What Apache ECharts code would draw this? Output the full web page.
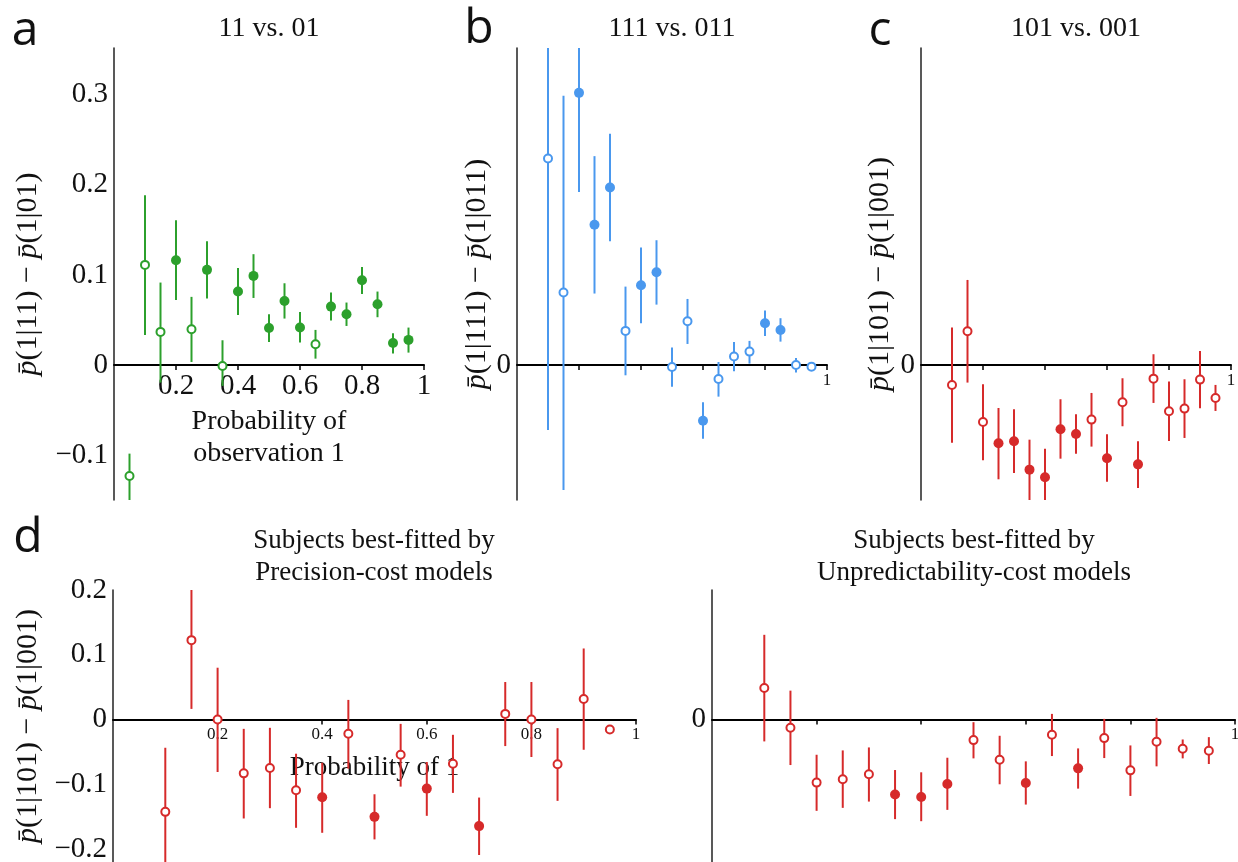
<!DOCTYPE html>
<html><head><meta charset="utf-8">
<script src="https://cdn.jsdelivr.net/npm/echarts@6/dist/echarts.min.js"></script>
<style>html,body{margin:0;padding:0;background:#fff}#c{width:1238px;height:862px}</style>
</head><body><div id="c"></div><script>
// ---------- data ----------
const aX      = [0.05,0.1,0.15,0.2,0.25,0.3,0.35,0.4,0.45,0.5,0.55,0.6,0.65,0.7,0.75,0.8,0.85,0.9,0.95];
const aMean   = [-0.1233,0.1111,0.0367,0.1163,0.0396,0.1056,-0.0011,0.0815,0.0989,0.0411,0.0711,0.0415,0.023,0.0648,0.0563,0.0941,0.0674,0.0244,0.0278];
const aLow    = [-0.17,0.0333,-0.0196,0.0722,0.0033,0.0737,-0.0233,0.0556,0.0744,0.0256,0.0515,0.0248,0.007,0.0493,0.0433,0.0789,0.053,0.0126,0.0137];
const aHigh   = [-0.0985,0.1885,0.0915,0.1607,0.0756,0.1374,0.0274,0.1078,0.123,0.0563,0.0907,0.0589,0.0389,0.0804,0.0693,0.1089,0.0815,0.0352,0.0415];
const aFilled = [0,0,0,1,0,1,0,1,1,1,1,1,0,1,1,1,1,1,1];

const bX      = [0.1,0.15,0.2,0.25,0.3,0.35,0.4,0.45,0.5,0.55,0.6,0.65,0.7,0.75,0.8,0.85,0.9,0.95];
const bMean   = [0.2293,0.0804,0.3022,0.1556,0.197,0.0378,0.0885,0.103,-0.0022,0.0485,-0.0619,-0.0156,0.0093,0.0148,0.0463,0.0389,0,-0.0019];
const bLow    = [-0.0722,-0.1389,0.1922,0.0793,0.1374,-0.0115,0.0463,0.067,-0.0241,0.0233,-0.0819,-0.0352,-0.007,0.0015,0.0322,0.0259,-0.0085,-0.0056];
const bHigh   = [0.40,0.2989,0.40,0.2319,0.2567,0.087,0.1304,0.1385,0.0193,0.0733,-0.0415,0.0033,0.0256,0.0267,0.0604,0.0519,0.0078,0.0019];
const bFilled = [0,0,1,1,1,0,1,1,0,0,1,0,0,0,1,1,0,0];

const cX      = [0.1,0.15,0.2,0.25,0.3,0.35,0.4,0.45,0.5,0.55,0.6,0.65,0.7,0.75,0.8,0.85,0.9,0.95];
const cMean   = [-0.0222,0.0374,-0.0633,-0.087,-0.0848,-0.1163,-0.1248,-0.0715,-0.0767,-0.0607,-0.1037,-0.0415,-0.1104,-0.0152,-0.0515,-0.0485,-0.0163,-0.0367];
const cLow    = [-0.0863,-0.0196,-0.1059,-0.127,-0.12,-0.17,-0.17,-0.1041,-0.0985,-0.0907,-0.1296,-0.0681,-0.1367,-0.0422,-0.0844,-0.0811,-0.0481,-0.0511];
const cHigh   = [0.0415,0.0944,-0.0215,-0.0478,-0.0493,-0.083,-0.093,-0.0381,-0.0548,-0.0311,-0.077,-0.0148,-0.0848,0.0119,-0.0185,-0.0159,0.0156,-0.0222];
const cFilled = [0,0,0,1,1,1,1,1,1,0,1,0,1,0,0,0,0,0];

const dpX      = [0.1,0.15,0.2,0.25,0.3,0.35,0.4,0.45,0.5,0.55,0.6,0.65,0.7,0.75,0.8,0.85,0.9,0.95];
const dpMean   = [-0.1426,0.1226,0,-0.0831,-0.0749,-0.1092,-0.12,-0.0221,-0.1503,-0.0544,-0.1067,-0.0682,-0.1646,0.0087,0,-0.0692,0.0318,-0.0154];
const dpLow    = [-0.25,0.0164,-0.081,-0.1528,-0.1369,-0.1672,-0.1749,-0.0759,-0.1851,-0.1036,-0.1487,-0.1133,-0.2092,-0.041,-0.0579,-0.1256,-0.0467,-0.0185];
const dpHigh   = [-0.0436,0.20,0.08,-0.0144,-0.0128,-0.0528,-0.0667,0.0303,-0.1154,-0.0067,-0.0656,-0.0236,-0.1205,0.0579,0.0579,-0.0133,0.1097,-0.0125];
const dpFilled = [0,0,0,0,0,0,1,0,1,0,1,0,1,0,0,0,0,0];

const duX      = [0.1,0.15,0.2,0.25,0.3,0.35,0.4,0.45,0.5,0.55,0.6,0.65,0.7,0.75,0.8,0.85,0.9,0.95];
const duMean   = [0.0487,-0.0128,-0.0974,-0.0923,-0.0846,-0.1159,-0.1195,-0.0995,-0.0318,-0.062,-0.098,-0.0236,-0.0754,-0.0287,-0.0785,-0.0344,-0.0451,-0.0482];
const duLow    = [-0.0338,-0.0703,-0.141,-0.1364,-0.1267,-0.1538,-0.157,-0.1395,-0.06,-0.1,-0.1313,-0.0564,-0.1067,-0.0595,-0.118,-0.0723,-0.06,-0.0687];
const duHigh   = [0.1308,0.0446,-0.0544,-0.0477,-0.0431,-0.078,-0.0815,-0.059,-0.0041,-0.0251,-0.0646,0.0087,-0.0446,0.001,-0.04,0.0026,-0.0308,-0.0272];
const duFilled = [0,0,0,0,0,1,1,1,0,0,1,0,1,0,0,0,0,0];

const xTicks = [0.2,0.4,0.6,0.8,1];
const aYLabels = [-0.1,0,0.1,0.2,0.3];
const dYLabels = [-0.2,-0.1,0,0.1,0.2];
const topRange = [-0.15, 0.352];
const botRange = [-0.22, 0.2];

// ---------- layout / styling ----------
const SERIF = "'Liberation Serif','DejaVu Serif',serif";
const SANS = "'Open Sans','Noto Sans',sans-serif";
const GREEN = '#2ca02c', BLUE = '#4a98ee', RED = '#d62a2a';
const grids = [
  {left:114, top:48, width:310, height:452},
  {left:517, top:48, width:310, height:452},
  {left:921, top:48, width:310, height:452},
  {left:113, top:590, width:523, height:272},
  {left:712, top:590, width:523, height:272}
];
const ranges = [topRange, topRange, topRange, botRange, botRange];

function fmt(v){ const r = Math.round(v*10)/10; const s = String(Math.abs(r)); return r < 0 ? '\u2212' + s : s; }
function yName(a,b){ return '{i|p\u0304}(1|'+a+') \u2212 {i|p\u0304}(1|'+b+')'; }

const nameStyle = {fontFamily:SERIF, fontSize:30, color:'#111',
  rich:{i:{fontFamily:SERIF, fontSize:30, fontStyle:'italic', color:'#111'}}};

// the x axis is drawn where y = 0 inside each grid
function zeroOffset(g){
  const r = ranges[g];
  return -grids[g].height * (0 - r[0]) / (r[1] - r[0]);
}
function mkX(g, labelVals, labelSize, name, nameGap, nameSize){
  return {type:'value', gridIndex:g, min:0, max:1, position:'bottom', offset:zeroOffset(g),
    axisLine:{show:true, onZero:false, lineStyle:{color:'#000', width:2}},
    axisTick:{show:true, customValues:xTicks, length:5, lineStyle:{color:'#000', width:1.5}},
    axisLabel:{show:true, customValues:labelVals, fontFamily:SERIF, fontSize:labelSize, color:'#111', margin:7, formatter:fmt},
    splitLine:{show:false},
    name:name || '', nameLocation:'middle', nameGap:nameGap || 0,
    nameTextStyle:{fontFamily:SERIF, fontSize:nameSize || 28, color:'#111', lineHeight:32}};
}
function mkY(g, labelVals, name, nameGap){
  return {type:'value', gridIndex:g, min:ranges[g][0], max:ranges[g][1],
    axisLine:{show:true, onZero:false, lineStyle:{color:'#222', width:1.5}},
    axisTick:{show:false},
    axisLabel:{show:true, customValues:labelVals, fontFamily:SERIF, fontSize:29, color:'#111', margin:6, formatter:fmt},
    splitLine:{show:false},
    name:name || '', nameLocation:'middle', nameGap:nameGap || 0, nameRotate:90, nameTextStyle:nameStyle};
}

function panel(g, xs, mean, lo, hi, filled, color){
  const err = xs.map((x,i)=>[x, lo[i], hi[i]]);
  const f = [], o = [];
  xs.forEach((x,i)=> (filled[i] ? f : o).push([x, mean[i]]));
  return [
    {type:'custom', xAxisIndex:g, yAxisIndex:g, data:err, silent:true, z:2,
      renderItem:function(params, api){
        const cs = params.coordSys;
        const x = api.value(0);
        const p1 = api.coord([x, api.value(1)]), p2 = api.coord([x, api.value(2)]);
        const cl = y => Math.max(cs.y, Math.min(cs.y + cs.height, y));
        return {type:'line', shape:{x1:p1[0], y1:cl(p1[1]), x2:p2[0], y2:cl(p2[1])},
          style:{stroke:color, lineWidth:2}};
      }},
    {type:'scatter', xAxisIndex:g, yAxisIndex:g, data:f, symbolSize:10, z:3,
      itemStyle:{color:color, opacity:1}},
    {type:'scatter', xAxisIndex:g, yAxisIndex:g, data:o, symbolSize:8, z:4,
      itemStyle:{color:'#fff', borderColor:color, borderWidth:2, opacity:1}}
  ];
}

function txt(x, y, text, font, lh){
  const st = {text:text, font:font, fill:'#111', textAlign:'center', textVerticalAlign:'middle'};
  if (lh) st.lineHeight = lh;
  return {type:'text', x:x, y:y, silent:true, style:st};
}

const chart = echarts.init(document.getElementById('c'), null, {renderer:'canvas'});
chart.setOption({
  animation:false,
  backgroundColor:'#fff',
  grid: grids.map(g => Object.assign({containLabel:false, outerBoundsMode:'none'}, g)),
  xAxis:[
    mkX(0, xTicks, 29, 'Probability of\nobservation 1', 39, 28),
    mkX(1, [1], 17),
    mkX(2, [1], 17),
    mkX(3, xTicks, 17, 'Probability of 1', 32, 27),
    mkX(4, [1], 17)
  ],
  yAxis:[
    mkY(0, aYLabels, yName('11','01'), 71),
    mkY(1, [0], yName('111','011'), 25),
    mkY(2, [0], yName('101','001'), 26),
    mkY(3, dYLabels, yName('101','001'), 70),
    mkY(4, [0], '', 0)
  ],
  graphic:[
    txt(25, 31, 'a', '500 48px ' + SANS),
    txt(479, 29, 'b', '500 48px ' + SANS),
    txt(880, 31, 'c', '500 48px ' + SANS),
    txt(28, 538, 'd', '500 48px ' + SANS),
    txt(269, 29, '11 vs. 01', '28px ' + SERIF),
    txt(672, 29, '111 vs. 011', '28px ' + SERIF),
    txt(1076, 29, '101 vs. 001', '28px ' + SERIF),
    txt(374, 557, 'Subjects best-fitted by\nPrecision-cost models', '27px ' + SERIF, 32),
    txt(974, 557, 'Subjects best-fitted by\nUnpredictability-cost models', '27px ' + SERIF, 32)
  ],
  series:[].concat(
    panel(0, aX, aMean, aLow, aHigh, aFilled, GREEN),
    panel(1, bX, bMean, bLow, bHigh, bFilled, BLUE),
    panel(2, cX, cMean, cLow, cHigh, cFilled, RED),
    panel(3, dpX, dpMean, dpLow, dpHigh, dpFilled, RED),
    panel(4, duX, duMean, duLow, duHigh, duFilled, RED)
  )
});
</script></body></html>
